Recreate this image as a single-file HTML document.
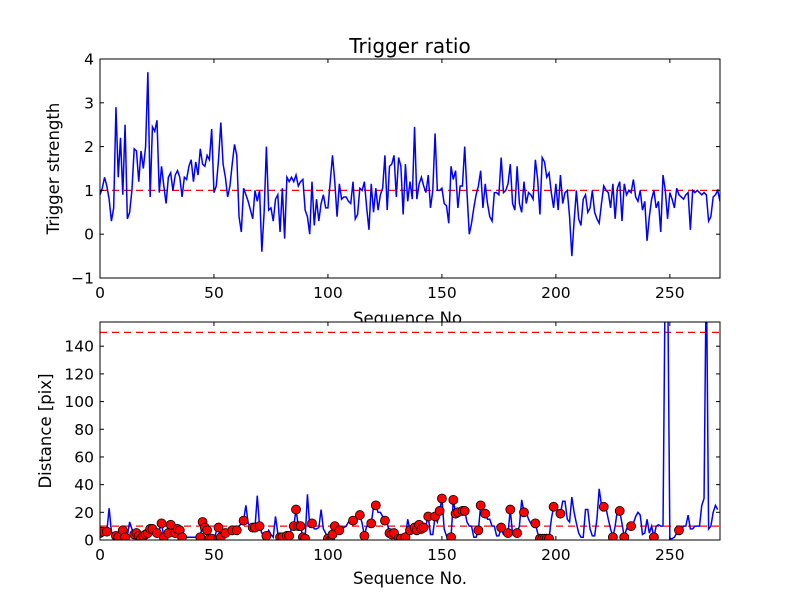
<!DOCTYPE html>
<html><head><meta charset="utf-8"><style>
html,body{margin:0;padding:0;background:#fff;}
svg{display:block;font-family:"DejaVu Sans","Liberation Sans",sans-serif;}
</style></head><body>
<svg id="fig" width="800" height="600" viewBox="0 0 800 600"></svg>
<script>
const xTicks=[0,50,100,150,200,250];
const topYTicks=[-1,0,1,2,3,4];
const botYTicks=[0,20,40,60,80,100,120,140];
const triggerRef=[1];
const distRefs=[10,150];
const trigger=[0.9,1.05,1.3,1.1,0.8,0.3,0.6,2.9,1.3,2.2,
0.9,2.5,0.35,0.5,1.0,1.95,1.9,1.2,1.9,1.5,
2.0,3.7,0.85,2.45,2.35,2.6,0.95,1.55,1.1,0.7,
1.3,1.4,1.0,1.35,1.45,1.3,0.85,1.3,1.25,1.55,
1.7,1.2,1.65,1.35,1.95,1.6,1.55,1.8,1.7,2.4,
0.95,1.1,1.7,2.55,1.6,1.3,0.85,1.1,1.6,2.05,
1.8,0.4,0.05,1.05,0.9,0.75,0.55,0.35,1.0,0.75,
1.0,-0.4,0.5,2.0,0.55,0.6,0.3,0.8,0.9,0.05,
1.05,-0.1,1.3,1.2,1.3,1.2,1.35,1.1,
1.2,1.25,0.55,0.4,0.0,1.2,0.2,0.8,0.3,0.7,0.9,0.6,0.6,1.2,1.8,
1.2,0.4,1.15,0.8,0.85,0.85,0.75,0.7,1.2,0.35,0.45,1.05,1.0,1.2,0.6,0.1,1.15,0.5,1.05,0.55,0.9,1.05,1.8,
0.55,1.55,1.6,1.8,0.85,1.75,1.55,0.45,1.6,0.75,1.2,0.8,2.45,0.8,1.15,1.3,1.1,0.95,1.35,0.6,1.0,2.3,
1.0,1.0,1.05,0.7,0.65,0.25,1.55,1.25,1.45,0.6,1.1,1.1,2.0,0.95,0.0,0.25,0.6,0.9,1.1,1.45,0.6,1.15,0.7,0.4,0.3,0.95,0.95,0.9,1.75,0.95,
1.0,1.15,1.6,0.7,0.55,1.55,0.7,0.5,1.2,0.7,0.95,0.9,0.8,1.7,1.25,0.45,1.75,1.65,1.3,1.4,0.95,0.6,1.15,0.55,1.35,0.7,0.95,1.0,0.4,-0.5,
0.3,1.0,0.35,0.2,0.8,0.9,0.5,0.6,1.0,0.5,0.35,0.25,0.7,1.1,1.0,0.95,0.6,1.15,0.35,1.05,1.2,0.3,1.15,0.9,1.0,0.95,1.25,0.85,0.75,1.0,0.55,0.75,-0.15,
0.4,0.8,1.0,0.6,0.75,0.05,1.35,1.0,0.35,0.95,0.8,0.6,1.05,0.9,0.85,0.8,0.9,0.95,0.1,1.0,0.95,1.0,0.95,0.9,0.95,0.9,0.3,0.4,0.85,0.9,1.0,0.75];
const distance=[5,6,7,6,23,6,4,3,2,5,
7,2,3,13,8,4,5,3,1,3,
4,5,8,8,6,5,7,12,2,7,
5,11,7,5,8,7,2,2,2,2,
2,2,2,2,2,13,9,7,1,1,
0.5,6,9,2,5,5,7,7,7,7,
7,10,12,14,25,12,10,9,9,32,
10,5,4,3,7,4,2,17,5,2,
2,4,3,3,8,10,22,10,10,2,
1,33,10,12,8,8,9,22,8,5,
1,0,4,10,8,7,9,9,10,13,
13,14,14,16,18,12,3,10,10,12,
24,25,20,20,17,14,12,5,4,5,
3,1,1,2,2,15,7,8,9,7,
11,8,9,11,17,4,4,17,13,21,
30,8,3,0,2,29,19,20,20,21,
21,13,10,10,2,2,7,25,19,19,
15,15,10,10,3,3,9,4,4,5,
22,4,5,5,10,29,20,20,15,12,
10,12,5,1,1,1,1,1,15,24,
26,20,19,28,28,15,13,31,20,12,
5,2,2,22,22,8,3,3,15,37,
25,24,23,15,8,2,10,22,21,12,
2,8,8,10,12,17,20,18,4,5,
15,5,10,2,10,11,10,10,200,200,
1,1,2,5,7,7,10,10,18,8,
8,10,10,10,25,30,200,8,10,20,25,22];
const markerIdx=[0,1,3,7,8,10,11,15,16,17,18,19,20,21,22,23,25,27,28,30,31,33,34,35,36,44,45,46,47,48,49,52,53,55,58,60,63,67,68,70,73,79,80,82,83,85,86,87,88,89,
90,93,100,101,102,103,105,111,114,116,119,121,125,127,128,129,131,132,134,136,138,139,140,141,142,144,147,149,150,154,155,156,157,159,160,166,167,169,176,179,
180,183,186,191,193,194,195,196,197,199,202,221,225,228,230,233,243,254];

const NS="http://www.w3.org/2000/svg";
const svg=document.getElementById('fig');
function mk(tag,attrs,parent){const e=document.createElementNS(NS,tag);for(const k in attrs)e.setAttribute(k,attrs[k]);(parent||svg).appendChild(e);return e;}
const L=100,R=720,XMAX=272;
const sx=v=>L+(v/XMAX)*(R-L);

function axes(top,bot,ymin,ymax,yTicks,name){
  const sy=v=>bot-(v-ymin)/(ymax-ymin)*(bot-top);
  const g=mk('g',{});
  
  
  mk('rect',{x:L,y:top,width:R-L,height:bot-top,fill:'#fff'},g);
  return {g,sy,top,bot};
}
function frame(a,yTicks,yfmt){
  const g=mk('g',{});
  
  
  xTicks.forEach(t=>{const x=sx(t);
    mk('line',{x1:x,x2:x,y1:a.bot,y2:a.bot-4,stroke:'#000'},g);
    mk('line',{x1:x,x2:x,y1:a.top,y2:a.top+4,stroke:'#000'},g);
    const tx=mk('text',{x:x,y:a.bot+20,'text-anchor':'middle','font-size':15.5},g);
    tx.textContent=t;
    
    
  });
  yTicks.forEach(t=>{const y=a.sy(t);
    mk('line',{x1:L,x2:L+4,y1:y,y2:y,stroke:'#000'},g);
    mk('line',{x1:R,x2:R-4,y1:y,y2:y,stroke:'#000'},g);
    const tx=mk('text',{x:L-6,y:y+5.5,'text-anchor':'end','font-size':15.5},g);
    tx.textContent=yfmt(t);
    
    
  });
  mk('rect',{x:L,y:a.top,width:R-L,height:a.bot-a.top,fill:'none',stroke:'#000','stroke-width':1},g);
}
function line(a,vals,clipId){
  const pts=vals.map((v,i)=>sx(i).toFixed(2)+','+a.sy(v).toFixed(2)).join(' ');
  return mk('polyline',{points:pts,fill:'none',stroke:'#0000ff','stroke-width':1.5,'clip-path':'url(#'+clipId+')'});
}
function clip(id,a){const d=mk('clipPath',{id:id});mk('rect',{x:L,y:a.top,width:R-L,height:a.bot-a.top},d);}

const A=axes(59,278,-1,4,topYTicks,'trigger-axes');
clip('c1',A);
triggerRef.forEach(v=>{const l=mk('line',{x1:L,x2:R,y1:A.sy(v),y2:A.sy(v),stroke:'#ff0000','stroke-dasharray':'7,5','stroke-width':1.2});
  
  });
const tl=line(A,trigger,'c1');


frame(A,topYTicks,t=>t<0?'\u2212'+(-t):String(t));
let t1=mk('text',{x:410,y:53,'text-anchor':'middle','font-size':20});t1.textContent='Trigger ratio';


let t2=mk('text',{x:410,y:324,'text-anchor':'middle','font-size':16.5});t2.textContent='Sequence No.';


let t3=mk('text',{x:59,y:168.5,'text-anchor':'middle','font-size':16.5,transform:'rotate(-90 59 168.5)'});t3.textContent='Trigger strength';



const B=axes(322,540,0,157.5,botYTicks,'distance-axes');
clip('c2',B);
distRefs.forEach(v=>{const l=mk('line',{x1:L,x2:R,y1:B.sy(v),y2:B.sy(v),stroke:'#ff0000','stroke-dasharray':'7,5','stroke-width':1.2});
  
  });
const bl=line(B,distance,'c2');


const mg=mk('g',{'clip-path':'url(#c2)'});


markerIdx.forEach(i=>{const c=mk('circle',{cx:sx(i),cy:B.sy(distance[i]),r:4.5,fill:'#ff0000',stroke:'#000','stroke-width':0.8},mg);
  
  });
frame(B,botYTicks,t=>String(t));
let t4=mk('text',{x:410,y:584,'text-anchor':'middle','font-size':16.5});t4.textContent='Sequence No.';


let t5=mk('text',{x:51,y:431,'text-anchor':'middle','font-size':16.5,transform:'rotate(-90 51 431)'});t5.textContent='Distance [pix]';


</script>
</body></html>
